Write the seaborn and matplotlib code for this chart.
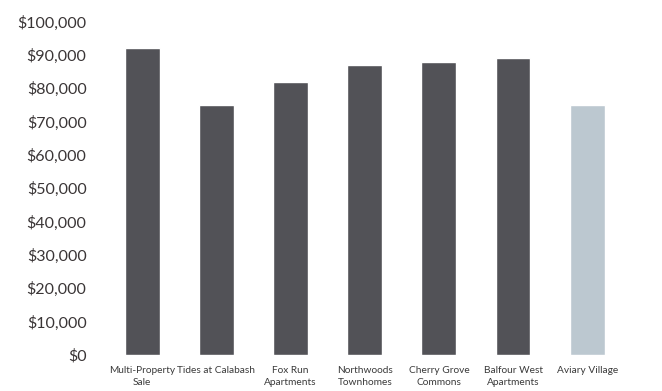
import matplotlib
matplotlib.use("Agg")
import matplotlib.pyplot as plt
import seaborn as sns
import pandas as pd
from matplotlib.ticker import FuncFormatter

categories = ["Multi-Property\nSale", "Tides at Calabash", "Fox Run\nApartments",
              "Northwoods\nTownhomes", "Cherry Grove\nCommons", "Balfour West\nApartments",
              "Aviary Village"]
values = [92000, 75000, 82000, 87000, 88000, 89000, 75000]
groups = ["comp", "comp", "comp", "comp", "comp", "comp", "subject"]

sns.set_style("white")
plt.rcParams['font.family'] = ['Lato', 'DejaVu Sans']

df = pd.DataFrame({"cat": categories, "val": values, "grp": groups})

fig = plt.figure(figsize=(6.62, 3.91), dpi=100)
ax = fig.add_axes([0.159, 0.092, 0.784, 0.853])
sns.barplot(data=df, x="cat", y="val", hue="grp",
            palette={"comp": "#525257", "subject": "#bcc8d0"},
            width=0.47, dodge=False, legend=False, ax=ax, saturation=1)

ax.set_ylim(0, 100000)
ax.set_xlim(-0.5, 6.5)
ax.set_yticks(range(0, 100001, 10000))
ax.yaxis.set_major_formatter(FuncFormatter(lambda v, p: f"${int(v):,}"))
ax.set_xlabel("")
ax.set_ylabel("")
for s in ax.spines.values():
    s.set_visible(False)
ax.tick_params(axis="y", length=0, pad=13.5, labelsize=11.5, labelcolor="#3a3536")
ax.tick_params(axis="x", length=0, pad=8, labelsize=7.3, labelcolor="#3a3a3a")
for t in ax.get_xticklabels():
    t.set_linespacing(1.4)
ax.grid(False)

fig.savefig("out.png", dpi=100)
